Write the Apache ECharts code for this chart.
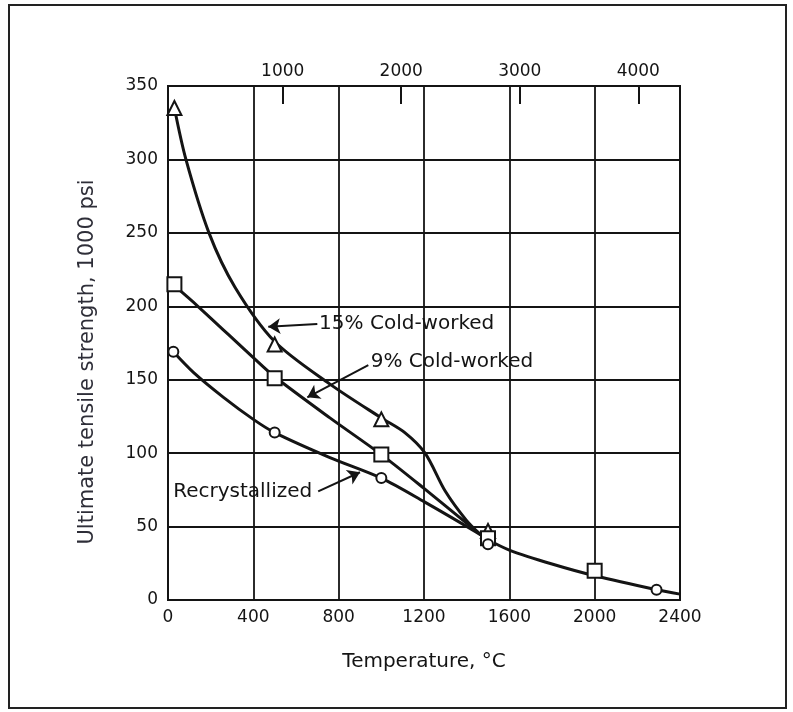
<!DOCTYPE html>
<html>
<head>
<meta charset="utf-8">
<script src="https://cdn.jsdelivr.net/npm/echarts@6/dist/echarts.min.js"></script>
<style>
  html, body { margin: 0; padding: 0; background: #fff; }
  #main { width: 793px; height: 712px; }
</style>
</head>
<body>
<div id="main"></div>
<script>
// axis ticks
const tempTicksF = [1000, 2000, 3000, 4000];

// measured points (temperature degC, strength in 1000 psi)
const cold15Marks = [[30, 335], [500, 174], [1000, 123], [1500, 47]];
const cold9Marks = [[30, 215], [500, 151], [1000, 99], [1500, 42], [2000, 20]];
const recrystMarks = [[25, 169], [500, 114], [1000, 83], [1500, 38], [2290, 7]];

// curves
const cold15Curve = [[30, 335], [84, 300], [192, 250], [314, 213], [500, 176], [759, 147],
  [1000, 124], [1110, 114], [1205, 100], [1300, 74], [1400, 54], [1465, 44.5]];
const cold9Curve = [[30, 214], [140, 200], [400, 165], [500, 152], [759, 124], [1000, 99],
  [1200, 76], [1465, 44.5]];
const recrystCurve = [[25, 169], [119, 155], [260, 138], [400, 123], [500, 114], [759, 97],
  [1000, 83], [1200, 67], [1465, 44.5], [1500, 41], [1600, 34], [1800, 24.5], [2000, 16.5],
  [2290, 7], [2400, 4]];

// callouts
const calloutText = ['15% Cold-worked', '9% Cold-worked', 'Recrystallized'];
const calloutAt = [[706, 188], [948, 162], [22, 74]];
const arrowFrom = [[700, 188], [939, 160], [704, 74]];
const arrowTo = [[470, 186], [653, 138], [900, 87]];

const FONT = 'DejaVu Sans';
const INK = '#141414';

const chart = echarts.init(document.getElementById('main'));

function curve(data) {
  return {
    type: 'line',
    data: data,
    smooth: 0.3,
    showSymbol: false,
    symbol: 'none',
    lineStyle: { color: INK, width: 3 },
    z: 3,
    silent: true
  };
}

function marks(data, symbol, size) {
  return {
    type: 'scatter',
    data: data,
    symbol: symbol,
    symbolSize: size,
    itemStyle: { color: '#fff', borderColor: INK, borderWidth: 2, opacity: 1 },
    z: 5,
    silent: true
  };
}

const plain = (v) => String(v);

const option = {
  backgroundColor: '#fff',
  animation: false,
  grid: {
    left: 168, top: 86, width: 512, height: 514,
    show: true, borderColor: INK, borderWidth: 2, backgroundColor: 'transparent'
  },
  xAxis: [
    {
      type: 'value', min: 0, max: 2400, interval: 400, position: 'bottom',
      name: 'Temperature, \u00B0C', nameLocation: 'middle', nameGap: 52,
      nameTextStyle: { fontFamily: FONT, fontSize: 20, color: INK },
      axisLine: { show: true, lineStyle: { color: INK, width: 2 } },
      axisTick: { show: false },
      axisLabel: { fontFamily: FONT, fontSize: 17, color: INK, margin: 9, formatter: plain },
      splitLine: { show: true, lineStyle: { color: INK, width: 1.8 } }
    },
    {
      // Fahrenheit scale along the top
      type: 'value', min: 32, max: 4352, position: 'top',
      axisLine: { show: false },
      axisTick: {
        show: true, inside: true, length: 18, customValues: tempTicksF,
        lineStyle: { color: INK, width: 2 }
      },
      axisLabel: {
        fontFamily: FONT, fontSize: 17, color: INK, margin: 6,
        customValues: tempTicksF, formatter: plain
      },
      splitLine: { show: false }
    }
  ],
  yAxis: {
    type: 'value', min: 0, max: 350, interval: 50,
    axisLine: { show: true, lineStyle: { color: INK, width: 2 } },
    axisTick: { show: false },
    axisLabel: { fontFamily: FONT, fontSize: 17, color: INK, margin: 10, formatter: plain },
    splitLine: { show: true, lineStyle: { color: INK, width: 1.8 } }
  },
  graphic: [
    {
      type: 'rect', left: 8, top: 4, z: -1, silent: true,
      shape: { width: 777, height: 703 },
      style: { fill: 'transparent', stroke: '#222', lineWidth: 2 }
    },
    {
      type: 'text', x: 88, y: 362, rotation: Math.PI / 2, silent: true,
      style: {
        text: 'Ultimate tensile strength, 1000 psi',
        fontFamily: FONT, fontSize: 21, fill: '#2e2e38',
        textAlign: 'center', textVerticalAlign: 'middle'
      }
    }
  ],
  series: [
    curve(cold15Curve),
    curve(cold9Curve),
    curve(recrystCurve),
    marks(cold15Marks, 'triangle', 14),
    marks(cold9Marks, 'rect', 14),
    marks(recrystMarks, 'circle', 10),
    {
      type: 'scatter',
      data: calloutAt.map((p, i) => ({ value: p, name: calloutText[i] })),
      symbol: 'circle', symbolSize: 1,
      itemStyle: { color: 'rgba(0,0,0,0)', opacity: 1 },
      label: {
        show: true, position: 'right', distance: 0,
        formatter: (p) => p.name,
        fontFamily: FONT, fontSize: 20, color: INK, opacity: 1
      },
      markLine: {
        silent: true, animation: false,
        symbol: ['none', 'arrow'], symbolSize: 12,
        lineStyle: { color: INK, width: 2, type: 'solid', opacity: 1 },
        label: { show: false },
        emphasis: { disabled: true },
        data: arrowFrom.map((p, i) => [{ coord: p }, { coord: arrowTo[i] }])
      },
      z: 6,
      silent: true
    }
  ]
};

chart.setOption(option);
</script>
</body>
</html>
